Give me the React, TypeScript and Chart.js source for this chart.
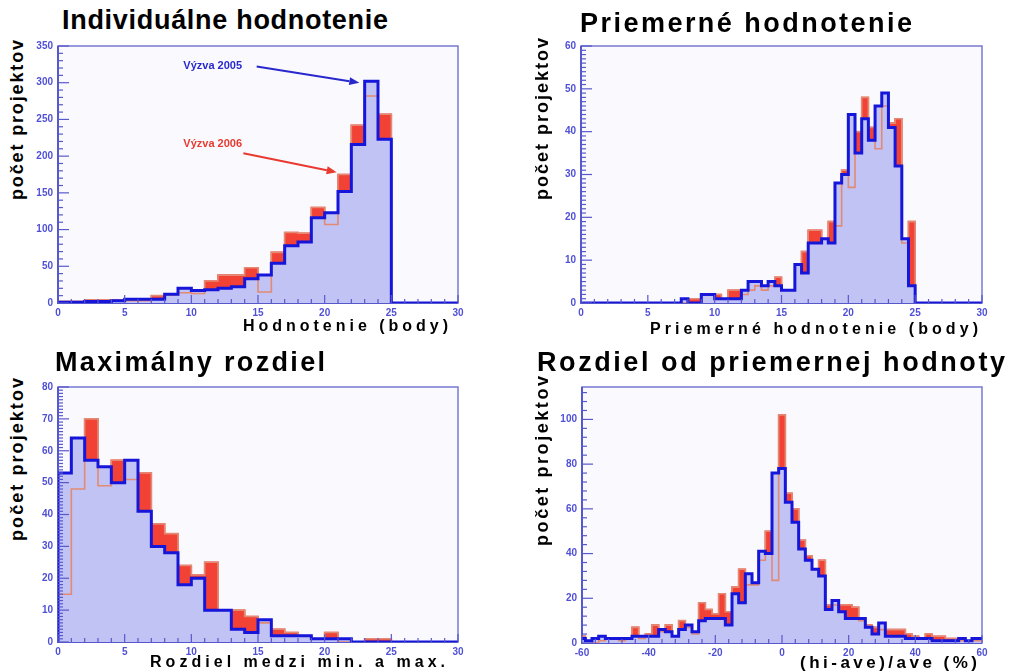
import React, { useEffect, useRef } from 'react';
import { Chart, registerables } from 'chart.js';

Chart.register(...registerables);

// ---------------------------------------------------------------- data
// Individuálne hodnotenie (bins of 1 point, 0..30)
const indivBinStart = 0;
const indivBinWidth = 1;
const indivVyzva2005 = [1, 1, 2, 2, 3, 5, 5, 5, 12, 20, 17, 18, 20, 22, 33, 38, 54, 78, 83, 116, 123, 152, 216, 302, 223, 0, 0, 0, 0, 0];
const indivVyzva2006 = [2, 2, 4, 4, 4, 3, 3, 10, 11, 14, 13, 30, 38, 38, 48, 15, 69, 96, 95, 130, 107, 175, 242, 282, 257, 0, 0, 0, 0, 0];
const indivXTicks = [0, 5, 10, 15, 20, 25, 30];
const indivYTicks = [0, 50, 100, 150, 200, 250, 300, 350];

// Priemerné hodnotenie (bins of 0.5 point, 0..30)
const avgBinStart = 0;
const avgBinWidth = 0.5;
const avgVyzva2005 = [
  0, 0, 0, 0, 0, 0, 0, 0, 0, 0, 0, 0, 0, 0, 0,
  1, 0, 0, 2, 2, 1, 1, 1, 1, 3, 5, 5, 4, 5, 4, 3, 3, 9, 7, 14,
  14, 15, 14, 28, 30, 44, 35, 43, 38, 46, 49, 41, 32, 15, 4,
  0, 0, 0, 0, 0, 0, 0, 0, 0, 0,
];
const avgVyzva2006 = [
  0, 0, 0, 0, 0, 0, 0, 0, 0, 0, 0, 0, 0, 0, 0,
  0, 1, 1, 2, 2, 2, 1, 3, 3, 2, 3, 4, 3, 4, 6, 3, 3, 9, 12, 17,
  17, 15, 19, 18, 31, 27, 40, 48, 41, 36, 46, 42, 43, 14, 19,
  0, 0, 0, 0, 0, 0, 0, 0, 0, 0,
];
const avgXTicks = [0, 5, 10, 15, 20, 25, 30];
const avgYTicks = [0, 10, 20, 30, 40, 50, 60];

// Maximálny rozdiel (bins of 1 point, 0..30)
const maxBinStart = 0;
const maxBinWidth = 1;
const maxVyzva2005 = [53, 64, 57, 55, 50, 57, 41, 30, 28, 18, 20, 10, 10, 4, 3, 7, 2, 2, 2, 1, 1, 1, 0, 0, 0, 0, 0, 0, 0, 0];
const maxVyzva2006 = [15, 48, 70, 49, 57, 51, 53, 37, 34, 24, 21, 25, 10, 10, 8, 6, 4, 3, 2, 1, 3, 0, 0, 1, 1, 0, 0, 0, 0, 0];
const maxXTicks = [0, 5, 10, 15, 20, 25, 30];
const maxYTicks = [0, 10, 20, 30, 40, 50, 60, 70, 80];

// Rozdiel od priemernej hodnoty (bins of 2 %, centred on -60..60)
const devBinStart = -61;
const devBinWidth = 2;
const devVyzva2005 = [
  2, 1, 2, 3, 2, 2, 2, 2, 3, 3,
  3, 3, 6, 5, 3, 6, 8, 5, 10, 11,
  11, 11, 8, 22, 18, 31, 27, 41, 40, 76,
  78, 63, 54, 42, 37, 33, 30, 15, 19, 14,
  11, 11, 11, 7, 4, 9, 3, 3, 3, 2,
  2, 2, 2, 1, 1, 1, 1, 2, 1, 2,
  2,
];
const devVyzva2006 = [
  3, 1, 0, 1, 2, 2, 1, 2, 7, 2,
  4, 8, 5, 8, 3, 10, 7, 4, 18, 15,
  13, 22, 14, 25, 33, 26, 26, 37, 50, 28,
  102, 67, 60, 46, 39, 33, 37, 17, 17, 17,
  17, 16, 10, 8, 7, 6, 6, 6, 6, 4,
  3, 2, 4, 3, 3, 2, 2, 1, 1, 1,
  1,
];
const devXTicks = [-60, -40, -20, 0, 20, 40, 60];
const devYTicks = [0, 20, 40, 60, 80, 100];

// ---------------------------------------------------------------- texts
const titleTexts = ['Individuálne hodnotenie', 'Priemerné hodnotenie', 'Maximálny rozdiel', 'Rozdiel od priemernej hodnoty'];
const xTitleTexts = ['Hodnotenie (body)', 'Priemerné hodnotenie (body)', 'Rozdiel medzi min. a max.', '(hi-ave)/ave (%)'];
const yTitleText = 'počet projektov';
const seriesNames = ['Výzva 2005', 'Výzva 2006'];

// ---------------------------------------------------------------- style
const FONT = '"Liberation Sans", Arial, Helvetica, sans-serif';
const TICK_COLOR = 'rgb(80,80,215)';
const AXIS_COLOR = 'rgb(88,88,205)';
const FRAME_COLOR = 'rgb(120,120,210)';
const PLOT_BG = '#fafafe';
const RED = 'rgb(242,66,54)';
const RED_INNER = 'rgb(226,138,116)';
const BLUE = 'rgb(22,22,218)';
const BLUE_FILL = 'rgb(192,195,243)';

type Callout = { text: string; color: string; at: [number, number]; from: [number, number]; to: [number, number] };

type PanelSpec = {
  binStart: number; binWidth: number; blue: number[]; red: number[];
  xMin: number; xMax: number; yMax: number; xTicks: number[]; yTicks: number[];
  xMinor: number; yMinor: number;
  box: { left: number; top: number; width: number; height: number };
  callouts?: Callout[];
};

const indivCallouts: Callout[] = [
  { text: seriesNames[0], color: 'rgb(40,40,205)', at: [9.4, 323], from: [14.9, 322], to: [22.6, 300] },
  { text: seriesNames[1], color: 'rgb(232,58,48)', at: [9.4, 217], from: [13.9, 204], to: [20.9, 178] },
];

const panels: PanelSpec[] = [
  { binStart: indivBinStart, binWidth: indivBinWidth, blue: indivVyzva2005, red: indivVyzva2006,
    xMin: 0, xMax: 30, yMax: 350, xTicks: indivXTicks, yTicks: indivYTicks, xMinor: 1, yMinor: 10,
    box: { left: 28, top: 35, width: 444, height: 288 }, callouts: indivCallouts },
  { binStart: avgBinStart, binWidth: avgBinWidth, blue: avgVyzva2005, red: avgVyzva2006,
    xMin: 0, xMax: 30, yMax: 60, xTicks: avgXTicks, yTicks: avgYTicks, xMinor: 1, yMinor: 1,
    box: { left: 551, top: 35, width: 445, height: 288 } },
  { binStart: maxBinStart, binWidth: maxBinWidth, blue: maxVyzva2005, red: maxVyzva2006,
    xMin: 0, xMax: 30, yMax: 80, xTicks: maxXTicks, yTicks: maxYTicks, xMinor: 1, yMinor: 1,
    box: { left: 28, top: 376, width: 444, height: 286 } },
  { binStart: devBinStart, binWidth: devBinWidth, blue: devVyzva2005, red: devVyzva2006,
    xMin: -60, xMax: 60, yMax: 114.5, xTicks: devXTicks, yTicks: devYTicks, xMinor: 4, yMinor: 4,
    box: { left: 552, top: 376, width: 444, height: 287 } },
];

const titleBoxes = [
  { left: 62, right: 388, baseline: 30, size: 27 },
  { left: 580, right: 912, baseline: 33, size: 27 },
  { left: 55, right: 325, baseline: 372, size: 27 },
  { left: 537, right: 1005, baseline: 372, size: 27 },
];
const xTitleBoxes = [
  { left: 243, right: 448, baseline: 332, size: 16 },
  { left: 650, right: 978, baseline: 335, size: 16 },
  { left: 150, right: 445, baseline: 668, size: 16 },
  { left: 800, right: 977, baseline: 668, size: 17 },
];
const yTitleBoxes = [
  { baselineX: 23, bottom: 200, top: 40, size: 18 },
  { baselineX: 548, bottom: 200, top: 38, size: 18 },
  { baselineX: 23, bottom: 541, top: 378, size: 18 },
  { baselineX: 548, bottom: 546, top: 376, size: 18 },
];

// ---------------------------------------------------------------- helpers
function stepPoints(start: number, width: number, values: number[]) {
  const pts: { x: number; y: number }[] = [{ x: start, y: 0 }];
  values.forEach((v, i) => pts.push({ x: start + i * width, y: v }));
  pts.push({ x: start + values.length * width, y: 0 });
  return pts;
}

function makeFramePlugin(xMinor: number, xMajor: number, yMinor: number, yMajor: number) {
  return {
    id: 'rootFrame',
    beforeDatasetsDraw(chart: any) {
      const { ctx, chartArea: a } = chart;
      ctx.save();
      ctx.fillStyle = PLOT_BG;
      ctx.fillRect(a.left, a.top, a.right - a.left, a.bottom - a.top);
      ctx.strokeStyle = FRAME_COLOR;
      ctx.lineWidth = 1.5;
      ctx.strokeRect(a.left, a.top, a.right - a.left, a.bottom - a.top);
      ctx.strokeStyle = AXIS_COLOR;
      ctx.lineWidth = 2;
      ctx.beginPath();
      ctx.moveTo(a.left, a.top);
      ctx.lineTo(a.left, a.bottom);
      ctx.lineTo(a.right, a.bottom);
      ctx.stroke();
      ctx.restore();
    },
    afterDatasetsDraw(chart: any) {
      const { ctx, chartArea: a } = chart;
      const xs = chart.scales.x;
      const ys = chart.scales.y;
      ctx.save();
      ctx.strokeStyle = AXIS_COLOR;
      ctx.lineWidth = 1.2;
      const nx = Math.round((xs.max - xs.min) / xMinor);
      for (let i = 0; i <= nx; i++) {
        const v = xs.min + i * xMinor;
        const major = Math.abs(v / xMajor - Math.round(v / xMajor)) < 1e-6;
        const px = xs.getPixelForValue(v);
        ctx.beginPath();
        ctx.moveTo(px, a.bottom);
        ctx.lineTo(px, a.bottom - (major ? 8 : 4));
        ctx.stroke();
      }
      const ny = Math.floor((ys.max - ys.min) / yMinor + 1e-6);
      for (let i = 0; i <= ny; i++) {
        const v = ys.min + i * yMinor;
        const major = Math.abs(v / yMajor - Math.round(v / yMajor)) < 1e-6;
        const py = ys.getPixelForValue(v);
        ctx.beginPath();
        ctx.moveTo(a.left, py);
        ctx.lineTo(a.left + (major ? 11 : 5), py);
        ctx.stroke();
      }
      ctx.restore();
    },
  };
}

function makeCalloutPlugin(items: Callout[]) {
  return {
    id: 'callouts',
    afterDatasetsDraw(chart: any) {
      const { ctx } = chart;
      const xs = chart.scales.x;
      const ys = chart.scales.y;
      for (const it of items) {
        ctx.save();
        ctx.fillStyle = it.color;
        ctx.strokeStyle = it.color;
        ctx.font = `bold 11px ${FONT}`;
        ctx.textAlign = 'left';
        ctx.textBaseline = 'middle';
        ctx.fillText(it.text, xs.getPixelForValue(it.at[0]), ys.getPixelForValue(it.at[1]));
        const x0 = xs.getPixelForValue(it.from[0]);
        const y0 = ys.getPixelForValue(it.from[1]);
        const x1 = xs.getPixelForValue(it.to[0]);
        const y1 = ys.getPixelForValue(it.to[1]);
        const ang = Math.atan2(y1 - y0, x1 - x0);
        const hl = 10;
        const hw = 4;
        const bx = x1 - hl * Math.cos(ang);
        const by = y1 - hl * Math.sin(ang);
        ctx.lineWidth = 2;
        ctx.beginPath();
        ctx.moveTo(x0, y0);
        ctx.lineTo(bx, by);
        ctx.stroke();
        ctx.beginPath();
        ctx.moveTo(x1, y1);
        ctx.lineTo(bx + hw * Math.sin(ang), by - hw * Math.cos(ang));
        ctx.lineTo(bx - hw * Math.sin(ang), by + hw * Math.cos(ang));
        ctx.closePath();
        ctx.fill();
        ctx.restore();
      }
    },
  };
}

function axisOptions(min: number, max: number, ticks: number[], isX: boolean) {
  return {
    type: 'linear' as const,
    min,
    max,
    afterBuildTicks: (s: any) => {
      s.ticks = ticks.map((value) => ({ value }));
    },
    afterFit: (s: any) => {
      if (isX) s.height = 20;
      else s.width = 30;
    },
    grid: { display: false, drawTicks: false },
    border: { display: false },
    ticks: {
      color: TICK_COLOR,
      font: { family: FONT, size: 10, weight: 'bold' as const },
      padding: isX ? 4 : 5,
      maxRotation: 0,
      autoSkip: false,
      includeBounds: false,
    },
  };
}

function HistPanel({ spec }: { spec: PanelSpec }) {
  const ref = useRef<HTMLCanvasElement | null>(null);
  useEffect(() => {
    if (!ref.current) return;
    const mk = (vals: number[]) => stepPoints(spec.binStart, spec.binWidth, vals);
    const xMajor = spec.xTicks[1] - spec.xTicks[0];
    const yMajor = spec.yTicks[1] - spec.yTicks[0];
    const plugins: any[] = [makeFramePlugin(spec.xMinor, xMajor, spec.yMinor, yMajor)];
    if (spec.callouts) plugins.push(makeCalloutPlugin(spec.callouts));
    const chart = new Chart(ref.current, {
      type: 'line',
      data: {
        datasets: [
          { label: seriesNames[0], data: mk(spec.blue), stepped: true, borderColor: BLUE, borderWidth: 3,
            fill: false, pointRadius: 0, borderJoinStyle: 'miter' },
          { label: seriesNames[1] + ' (obrys)', data: mk(spec.red), stepped: true, borderColor: RED_INNER,
            borderWidth: 1.6, fill: false, pointRadius: 0, borderJoinStyle: 'miter' },
          { label: seriesNames[0] + ' (plocha)', data: mk(spec.blue), stepped: true, borderColor: 'rgba(0,0,0,0)',
            borderWidth: 1, backgroundColor: BLUE_FILL, fill: 'origin', pointRadius: 0 },
          { label: seriesNames[1], data: mk(spec.red), stepped: true, borderColor: RED, borderWidth: 1.5,
            backgroundColor: RED, fill: 'origin', pointRadius: 0, borderJoinStyle: 'miter' },
        ],
      },
      options: {
        animation: false,
        responsive: false,
        maintainAspectRatio: false,
        layout: { padding: { left: 0, top: 8, right: 14, bottom: 0 } },
        plugins: { legend: { display: false }, tooltip: { enabled: false }, title: { display: false } },
        scales: {
          x: axisOptions(spec.xMin, spec.xMax, spec.xTicks, true),
          y: axisOptions(0, spec.yMax, spec.yTicks, false),
        },
      } as any,
      plugins,
    } as any);
    return () => chart.destroy();
  }, [spec]);
  const b = spec.box;
  return (
    <canvas
      ref={ref}
      width={b.width}
      height={b.height}
      style={{ position: 'absolute', left: b.left, top: b.top, width: b.width, height: b.height }}
    />
  );
}

let measureCtx: CanvasRenderingContext2D | null = null;
function letterSpacingFor(text: string, size: number, target: number) {
  if (!measureCtx) measureCtx = document.createElement('canvas').getContext('2d');
  if (!measureCtx) return 0;
  measureCtx.font = `bold ${size}px ${FONT}`;
  const w = measureCtx.measureText(text).width;
  const n = Array.from(text).length;
  return (target - w) / Math.max(1, n - 1);
}

function HLabel({ text, left, right, baseline, size }: { text: string; left: number; right: number; baseline: number; size: number }) {
  const ls = letterSpacingFor(text, size, right - left);
  return (
    <div
      style={{
        position: 'absolute', left, top: baseline - 0.8465 * size, whiteSpace: 'nowrap',
        font: `bold ${size}px ${FONT}`, lineHeight: `${size}px`, letterSpacing: `${ls}px`, color: '#000',
      }}
    >
      {text}
    </div>
  );
}

function VLabel({ text, baselineX, bottom, top, size }: { text: string; baselineX: number; bottom: number; top: number; size: number }) {
  const ls = letterSpacingFor(text, size, bottom - top);
  return (
    <div
      style={{
        position: 'absolute', left: baselineX - 0.8465 * size, top: bottom, whiteSpace: 'nowrap',
        font: `bold ${size}px ${FONT}`, lineHeight: `${size}px`, letterSpacing: `${ls}px`, color: '#000',
        transform: 'rotate(-90deg)', transformOrigin: '0 0',
      }}
    >
      {text}
    </div>
  );
}

export default function App() {
  return (
    <div style={{ position: 'absolute', left: 0, top: 0, width: 1009, height: 672, background: '#fff', overflow: 'hidden' }}>
      {panels.map((p, i) => (
        <HistPanel key={'p' + i} spec={p} />
      ))}
      {yTitleBoxes.map((b, i) => (
        <VLabel key={'y' + i} text={yTitleText} {...b} />
      ))}
      {titleBoxes.map((b, i) => (
        <HLabel key={'t' + i} text={titleTexts[i]} {...b} />
      ))}
      {xTitleBoxes.map((b, i) => (
        <HLabel key={'x' + i} text={xTitleTexts[i]} {...b} />
      ))}
    </div>
  );
}
